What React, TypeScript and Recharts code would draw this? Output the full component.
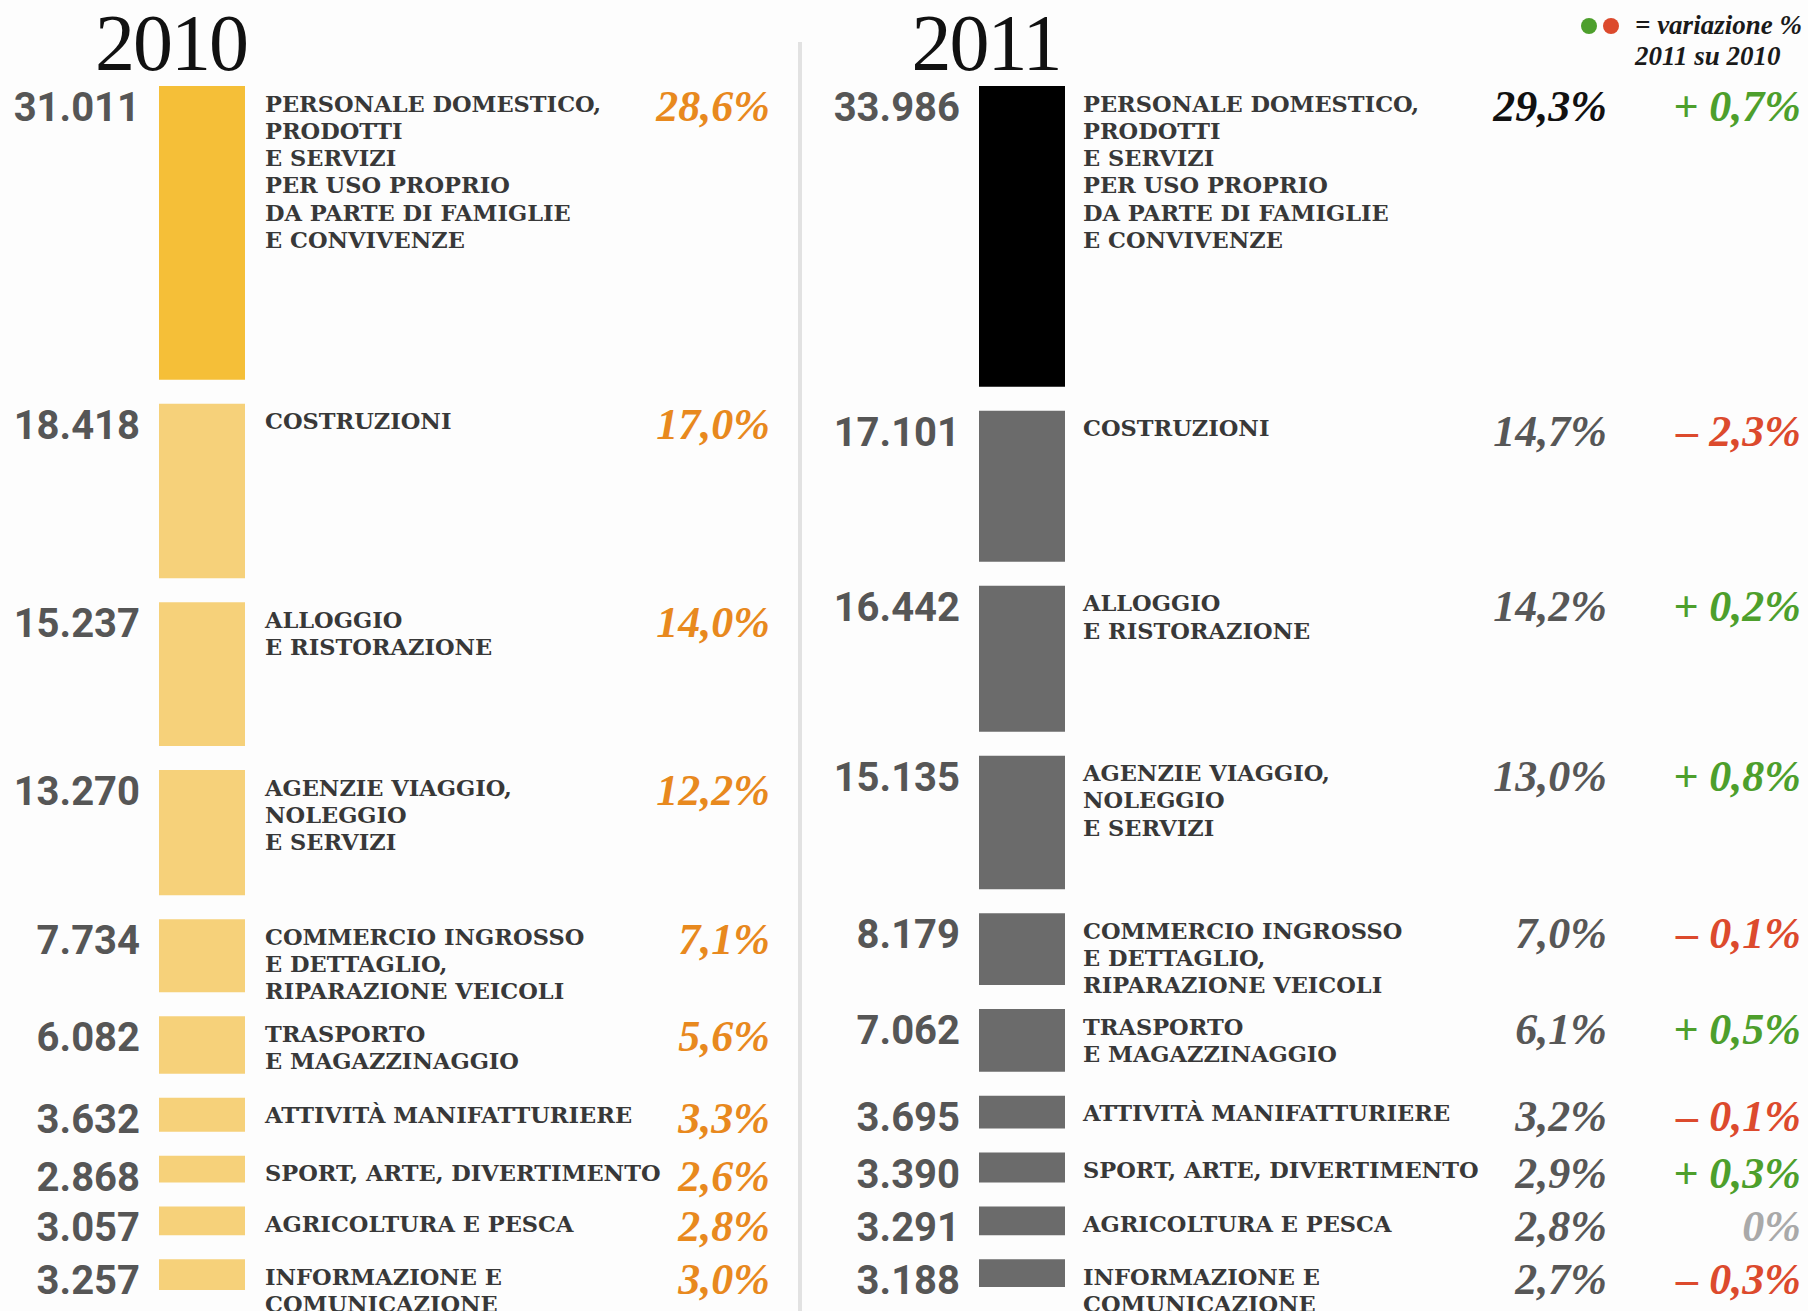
import React from "react";
import { BarChart, Bar, XAxis, YAxis, LabelList } from "recharts";

// settori, dall'alto verso il basso (gli a capo come nel grafico originale)
const sectors = [
  "PERSONALE DOMESTICO,\nPRODOTTI\nE SERVIZI\nPER USO PROPRIO\nDA PARTE DI FAMIGLIE\nE CONVIVENZE",
  "COSTRUZIONI",
  "ALLOGGIO\nE RISTORAZIONE",
  "AGENZIE VIAGGIO,\nNOLEGGIO\nE SERVIZI",
  "COMMERCIO INGROSSO\nE DETTAGLIO,\nRIPARAZIONE VEICOLI",
  "TRASPORTO\nE MAGAZZINAGGIO",
  "ATTIVITÀ MANIFATTURIERE",
  "SPORT, ARTE, DIVERTIMENTO",
  "AGRICOLTURA E PESCA",
  "INFORMAZIONE E\nCOMUNICAZIONE",
];

const count2010 = [31011, 18418, 15237, 13270, 7734, 6082, 3632, 2868, 3057, 3257];
const share2010 = [28.6, 17.0, 14.0, 12.2, 7.1, 5.6, 3.3, 2.6, 2.8, 3.0];

const count2011 = [33986, 17101, 16442, 15135, 8179, 7062, 3695, 3390, 3291, 3188];
const share2011 = [29.3, 14.7, 14.2, 13.0, 7.0, 6.1, 3.2, 2.9, 2.8, 2.7];

// variazione % 2011 su 2010
const change = [0.7, -2.3, 0.2, 0.8, -0.1, 0.5, -0.1, 0.3, 0, -0.3];

const GAP = 2.34; // spazio bianco tra i blocchi, in punti percentuali
const BAR_W = 86;
const PAD = 20; // spazio attorno alla barra dentro la banda
const PAGE_W = 1808;
const PAGE_H = 1311;

const GREEN = "#4d9f2c";
const RED = "#dc4a2d";

const columnTotal = (shares: number[]) =>
  shares.reduce((a, b) => a + b, 0) + GAP * (shares.length - 1);
// stessa scala per i due anni
const DOMAIN_MAX = Math.max(columnTotal(share2010), columnTotal(share2011));

const fmtCount = (n: number) =>
  String(n).replace(/\B(?=(\d{3})+(?!\d))/g, ".");
const fmtPct = (p: number) => p.toFixed(1).replace(".", ",") + "%";
const fmtChange = (c: number) => {
  if (c === 0) return "0%";
  const s = Math.abs(c).toFixed(1).replace(".", ",") + "%";
  return (c > 0 ? "+ " : "\u2013 ") + s;
};

interface ColumnProps {
  year: string;
  counts: number[];
  shares: number[];
  changes?: number[];
  left: number;
  width: number;
  barX: number;
  firstColor: string;
  restColor: string;
  firstPctColor: string;
  restPctColor: string;
  textOffset: number;
  pctRight: number;
  changeRight?: number;
}

function Column(props: ColumnProps) {
  const { counts, shares, changes } = props;

  // one row, one stacked segment per sector with a transparent gap between
  const row: Record<string, number | string> = { name: props.year };
  shares.forEach((s, i) => {
    row[`seg${i}`] = s;
    if (i < shares.length - 1) row[`gap${i}`] = GAP;
  });

  const renderLabel = (i: number) => (p: any) => {
    const vb = p.viewBox ?? p;
    const top = Math.min(vb.y, vb.y + vb.height);
    const x = vb.x;
    const lines = sectors[i].split("\n");
    const c = changes ? changes[i] : null;
    return (
      <g key={`lab-${i}`}>
        <text
          x={x - 19}
          y={top + 35}
          textAnchor="end"
          fontFamily="Roboto, 'Liberation Sans', sans-serif"
          fontWeight={700}
          fontSize={40}
          fill="#565656"
        >
          {fmtCount(counts[i])}
        </text>
        <text
          x={x + props.textOffset}
          y={top + 25.5}
          fontFamily="'DejaVu Serif', serif"
          fontWeight={700}
          fontSize={22.5}
          fill="#383838"
        >
          {lines.map((l, k) => (
            <tspan key={k} x={x + props.textOffset} dy={k === 0 ? 0 : 27.3}>
              {l}
            </tspan>
          ))}
        </text>
        <text
          x={x + props.pctRight}
          y={top + 35}
          textAnchor="end"
          fontFamily="'Liberation Serif', serif"
          fontStyle="italic"
          fontWeight={700}
          fontSize={44}
          fill={i === 0 ? props.firstPctColor : props.restPctColor}
        >
          {fmtPct(shares[i])}
        </text>
        {c !== null && props.changeRight !== undefined && (
          <text
            x={x + props.changeRight}
            y={top + 35}
            textAnchor="end"
            fontFamily="'Liberation Serif', serif"
            fontStyle="italic"
            fontWeight={700}
            fontSize={44}
            fill={c > 0 ? GREEN : c < 0 ? RED : "#a9a9a9"}
          >
            {fmtChange(c)}
          </text>
        )}
      </g>
    );
  };

  const bars: React.ReactNode[] = [];
  shares.forEach((_, i) => {
    bars.push(
      <Bar
        key={`seg${i}`}
        dataKey={`seg${i}`}
        stackId="a"
        fill={i === 0 ? props.firstColor : props.restColor}
        barSize={BAR_W}
        isAnimationActive={false}
      >
        <LabelList dataKey={`seg${i}`} content={renderLabel(i)} />
      </Bar>
    );
    if (i < shares.length - 1) {
      bars.push(
        <Bar
          key={`gap${i}`}
          dataKey={`gap${i}`}
          stackId="a"
          fill="transparent"
          barSize={BAR_W}
          isAnimationActive={false}
        />
      );
    }
  });

  return (
    <div style={{ position: "absolute", left: props.left, top: 0 }}>
      <BarChart
        width={props.width}
        height={PAGE_H}
        data={[row]}
        margin={{
          top: 86,
          bottom: 21,
          left: props.barX - PAD,
          right: props.width - props.barX - BAR_W - PAD,
        }}
        barCategoryGap={0}
        barGap={0}
        style={{ overflow: "visible" }}
      >
        <XAxis dataKey="name" type="category" hide />
        <YAxis type="number" hide reversed domain={[0, DOMAIN_MAX]} allowDataOverflow />
        {bars}
      </BarChart>
    </div>
  );
}

export default function App() {
  return (
    <div
      style={{
        position: "absolute",
        left: 0,
        top: 0,
        width: PAGE_W,
        height: PAGE_H,
        background: "#fdfdfd",
        overflow: "hidden",
      }}
    >
      {/* divisore tra i due anni */}
      <div
        style={{
          position: "absolute",
          left: 798,
          top: 42,
          width: 4,
          height: PAGE_H - 42,
          background: "#e2e2e2",
        }}
      />

      <Column
        year="2010"
        counts={count2010}
        shares={share2010}
        left={0}
        width={800}
        barX={159}
        firstColor="#f5bf38"
        restColor="#f6d17a"
        firstPctColor="#e8891e"
        restPctColor="#e8891e"
        textOffset={106}
        pctRight={611}
      />
      <Column
        year="2011"
        counts={count2011}
        shares={share2011}
        changes={change}
        left={800}
        width={1008}
        barX={179}
        firstColor="#000000"
        restColor="#6b6b6b"
        firstPctColor="#111111"
        restPctColor="#575757"
        textOffset={104}
        pctRight={628}
        changeRight={822}
      />

      <svg
        width={PAGE_W}
        height={PAGE_H}
        style={{ position: "absolute", left: 0, top: 0, pointerEvents: "none" }}
      >
        <text
          x={171}
          y={70}
          textAnchor="middle"
          fontFamily="'Liberation Serif', serif"
          fontSize={80}
          letterSpacing={-2}
          fill="#111"
        >
          2010
        </text>
        <text
          x={986}
          y={70}
          textAnchor="middle"
          fontFamily="'Liberation Serif', serif"
          fontSize={80}
          letterSpacing={-2}
          fill="#111"
        >
          2011
        </text>

        {/* legenda */}
        <circle cx={1589} cy={26} r={8} fill={GREEN} />
        <circle cx={1611} cy={26} r={8} fill={RED} />
        <text
          x={1635}
          y={34}
          fontFamily="'Liberation Serif', serif"
          fontStyle="italic"
          fontWeight={700}
          fontSize={27}
          fill="#1a1a1a"
        >
          = variazione %
        </text>
        <text
          x={1635}
          y={65}
          fontFamily="'Liberation Serif', serif"
          fontStyle="italic"
          fontWeight={700}
          fontSize={27}
          fill="#1a1a1a"
        >
          2011 su 2010
        </text>
      </svg>
    </div>
  );
}
